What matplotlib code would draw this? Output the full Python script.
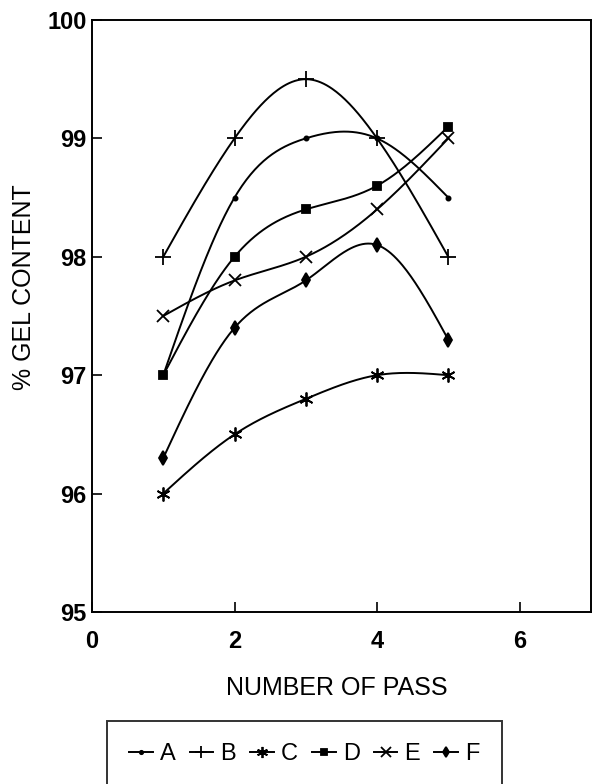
import numpy as np
import matplotlib.pyplot as plt
from matplotlib.lines import Line2D

plt.rcParams['font.family'] = ['Liberation Sans', 'DejaVu Sans']

passes = [1, 2, 3, 4, 5]
gel_a = [97.0, 98.5, 99.0, 99.0, 98.5]
gel_b = [98.0, 99.0, 99.5, 99.0, 98.0]
gel_c = [96.0, 96.5, 96.8, 97.0, 97.0]
gel_d = [97.0, 98.0, 98.4, 98.6, 99.1]
gel_e = [97.5, 97.8, 98.0, 98.4, 99.0]
gel_f = [96.3, 97.4, 97.8, 98.1, 97.3]
labels = ['A', 'B', 'C', 'D', 'E', 'F']

# marker styles: (marker, size)
styles = [('o', 3), ('+', 11), ((6, 2, 0), 10), ('s', 5.5), ('x', 9), ('d', 7)]


def natural_spline(x, y, n=200):
    # plain natural cubic spline, just for drawing a smooth line through the points
    x = np.asarray(x, float)
    y = np.asarray(y, float)
    k = len(x)
    h = np.diff(x)
    A = np.zeros((k, k))
    r = np.zeros(k)
    A[0, 0] = A[-1, -1] = 1
    for i in range(1, k - 1):
        A[i, i - 1] = h[i - 1]
        A[i, i] = 2 * (h[i - 1] + h[i])
        A[i, i + 1] = h[i]
        r[i] = 6 * ((y[i + 1] - y[i]) / h[i] - (y[i] - y[i - 1]) / h[i - 1])
    m = np.linalg.solve(A, r)
    xs = np.linspace(x[0], x[-1], n)
    idx = np.clip(np.searchsorted(x, xs) - 1, 0, k - 2)
    x0, x1 = x[idx], x[idx + 1]
    hh = x1 - x0
    t0, t1 = x1 - xs, xs - x0
    ys = (m[idx] * t0 ** 3 + m[idx + 1] * t1 ** 3) / (6 * hh) \
        + (y[idx] / hh - m[idx] * hh / 6) * t0 \
        + (y[idx + 1] / hh - m[idx + 1] * hh / 6) * t1
    return xs, ys


fig = plt.figure(figsize=(5.92, 7.84), dpi=100)
ax = fig.add_axes([0.1554, 0.2194, 0.8426, 0.7551])

handles = []
for data, lab, (mk, ms) in zip([gel_a, gel_b, gel_c, gel_d, gel_e, gel_f], labels, styles):
    xs, ys = natural_spline(passes, data)
    ax.plot(xs, ys, color='black', lw=1.4)
    ax.plot(passes, data, linestyle='none', marker=mk, markersize=ms,
            color='black', markeredgewidth=1.3)
    handles.append(Line2D([0], [0], color='black', lw=1.4, marker=mk,
                          markersize=ms * 0.8, markeredgewidth=1.3))

ax.set_xlim(0, 7)
ax.set_ylim(95, 100)
ax.set_xticks([0, 2, 4, 6])
ax.set_yticks([95, 96, 97, 98, 99, 100])
ax.tick_params(direction='in', length=7, width=1.2, labelsize=17)
ax.tick_params(axis='x', pad=13)
ax.tick_params(axis='y', pad=4)
for t in ax.get_xticklabels() + ax.get_yticklabels():
    t.set_fontweight('bold')
for sp in ax.spines.values():
    sp.set_linewidth(1.4)

ax.set_xlabel('NUMBER OF PASS', fontsize=18)
ax.set_ylabel('% GEL CONTENT', fontsize=18)
ax.xaxis.set_label_coords(0.49, -0.108)
ax.yaxis.set_label_coords(-0.112, 0.549)

leg = fig.legend(handles, labels, loc='center', bbox_to_anchor=(0.514, 0.038),
                 ncol=6, fontsize=17, handlelength=1.0, handletextpad=0.3,
                 columnspacing=0.6, fancybox=False, edgecolor='black',
                 borderpad=0.95)
leg.get_frame().set_linewidth(1.4)

fig.savefig('out.png', dpi=100)
